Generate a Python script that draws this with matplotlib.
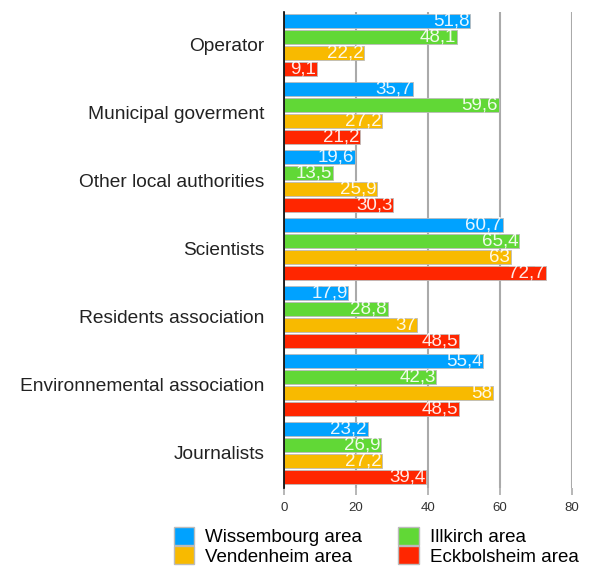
import matplotlib
matplotlib.use("Agg")
import matplotlib.pyplot as plt
import numpy as np
from matplotlib.patches import Patch

plt.rcParams['font.family'] = ['Liberation Sans', 'DejaVu Sans']

categories = ["Operator", "Municipal goverment", "Other local authorities", "Scientists",
              "Residents association", "Environnemental association", "Journalists"]
series_names = ["Wissembourg area", "Illkirch area", "Vendenheim area", "Eckbolsheim area"]
wissembourg = [51.8, 35.7, 19.6, 60.7, 17.9, 55.4, 23.2]
illkirch = [48.1, 59.6, 13.5, 65.4, 28.8, 42.3, 26.9]
vendenheim = [22.2, 27.2, 25.9, 63, 37, 58, 27.2]
eckbolsheim = [9.1, 21.2, 30.3, 72.7, 48.5, 48.5, 39.4]
colors = ["#00A2FF", "#61D836", "#F8BA00", "#FF2600"]
x_ticks = [0, 20, 40, 60, 80]

series = [wissembourg, illkirch, vendenheim, eckbolsheim]

fig = plt.figure(figsize=(5.89, 5.67), dpi=100)
ax = fig.add_axes([284/589, 1-488/567, (572-284)/589, (488-12)/567])

n = len(categories)
step = 0.236
h = 0.205
base = np.arange(n)
handles = []
for i, (vals, col, name) in enumerate(zip(series, colors, series_names)):
    y = base + (i - 1.5) * step
    bars = ax.barh(y, vals, height=h, color=col, edgecolor="#bbbbbb", linewidth=0.6, zorder=3)
    for b, v in zip(bars, vals):
        lab = ("%g" % v).replace(".", ",")
        ax.text(b.get_width() - 0.2, b.get_y() + b.get_height()/2 + 0.005, lab,
                ha="right", va="center", color="white", alpha=0.9, fontsize=13.5, zorder=4)
    handles.append(Patch(facecolor=col, edgecolor="#bbbbbb", label=name))

ax.set_xlim(0, 80)
ax.set_ylim(n - 0.5 + 0.02, -0.5 + 0.02)
ax.set_yticks(base)
ax.set_yticklabels(categories, fontsize=13.8, color="#222222")
ax.tick_params(axis="y", length=0, pad=14)
ax.set_xticks(x_ticks)
ax.set_xticklabels([str(t) for t in x_ticks], fontsize=9.5, color="#333333")
ax.tick_params(axis="x", length=5, color="#aaaaaa", width=1.2, pad=5)
ax.grid(axis="x", color="#aaaaaa", linewidth=1.5, zorder=0)
for s in ["top", "right", "bottom"]:
    ax.spines[s].set_visible(False)
ax.spines["left"].set_color("black")
ax.spines["left"].set_linewidth(1.2)
ax.spines["left"].set_zorder(5)

order = [0, 2, 1, 3]
fig.legend([handles[i] for i in order], [series_names[i] for i in order],
           ncol=2, loc="lower left", bbox_to_anchor=(166/589, -0.011), frameon=False,
           fontsize=13.5, handlelength=1.1, handleheight=1.1, columnspacing=1.9,
           labelspacing=0.0, handletextpad=0.6, borderaxespad=0)

fig.savefig("out.png", dpi=100)
